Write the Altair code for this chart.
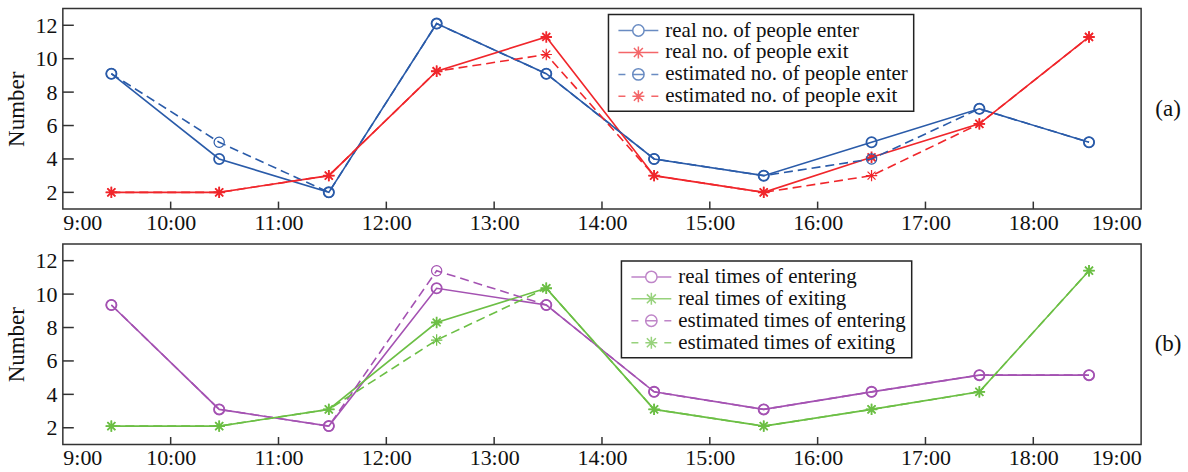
import altair as alt
import pandas as pd

# ---------------- data ----------------
times = ["9:27", "10:27", "11:28", "12:28", "13:29", "14:29", "15:30", "16:30", "17:30", "18:31"]
hours = [int(t.split(":")[0]) + int(t.split(":")[1]) / 60 for t in times]

names_a = ["real no. of people enter", "real no. of people exit",
           "estimated no. of people enter", "estimated no. of people exit"]
real_enter = [9.1, 4, 2, 12.1, 9.1, 4, 3, 5, 7, 5]
real_exit = [2, 2, 3, 9.25, 11.3, 3, 2, 4.1, 6.1, 11.3]
est_enter = [9.1, 5, 2, 12.1, 9.1, 4, 3, 4, 7, 5]
est_exit = [2, 2, 3, 9.25, 10.25, 3, 2, 3, 6.1, 11.3]

names_b = ["real times of entering", "real times of exiting",
           "estimated times of entering", "estimated times of exiting"]
real_entering = [9.35, 3.1, 2.1, 10.35, 9.35, 4.15, 3.1, 4.15, 5.15, 5.15]
real_exiting = [2.1, 2.1, 3.1, 8.3, 10.35, 3.1, 2.1, 3.1, 4.15, 11.4]
est_entering = [9.35, 3.1, 2.1, 11.4, 9.35, 4.15, 3.1, 4.15, 5.15, 5.15]
est_exiting = [2.1, 2.1, 3.1, 7.25, 10.35, 3.1, 2.1, 3.1, 4.15, 11.4]

x_tick_hours = list(range(9, 20))
y_tick_values = [2, 4, 6, 8, 10, 12]
panel_labels = ["(a)", "(b)"]

# ---------------- styles ----------------
W, H = 1081, 201
FONT = "Liberation Serif"
BLUE, RED, PURPLE, GREEN = "#2a5ba9", "#f0262b", "#a452b2", "#6cbf45"

CIRCLE = "circle"
STAR = "M-1,0H1M0,-1V1M-0.7,-0.7L0.7,0.7M-0.7,0.7L0.7,-0.7"

LEG_CIRCLE_SOLID = ("M-2,0H-0.57M0.57,0H2"
                    "M0.57,0A0.57,0.57 0 1 1 -0.57,0A0.57,0.57 0 1 1 0.57,0")
LEG_STAR_SOLID = ("M-2,0H2M0,-0.6V0.6M-0.45,-0.45L0.45,0.45M-0.45,0.45L0.45,-0.45")
LEG_CIRCLE_DASH = ("M-2,0H-1.3M-0.57,0H0.57M1.3,0H2"
                   "M0.57,0A0.57,0.57 0 1 1 -0.57,0A0.57,0.57 0 1 1 0.57,0")
LEG_STAR_DASH = ("M-2,0H-1.3M-0.6,0H0.6M1.3,0H2M0,-0.6V0.6"
                 "M-0.45,-0.45L0.45,0.45M-0.45,0.45L0.45,-0.45")
legend_paths = [LEG_CIRCLE_SOLID, LEG_STAR_SOLID, LEG_CIRCLE_DASH, LEG_STAR_DASH]


def long_df(names, series):
    rows = []
    for n, vals in zip(names, series):
        for h, v in zip(hours, vals):
            rows.append({"hour": h, "value": v, "series": n})
    return pd.DataFrame(rows)


X = alt.X("hour:Q",
          scale=alt.Scale(domain=[9, 19], nice=False, zero=False),
          axis=alt.Axis(values=x_tick_hours, labelExpr="datum.value + ':00'",
                        title=None, labelPadding=3, labelFlush=True, labelOverlap=False))
Y = alt.Y("value:Q",
          scale=alt.Scale(domain=[1, 13], nice=False, zero=False),
          axis=alt.Axis(values=y_tick_values, title="Number", labelPadding=6,
                        titlePadding=6))


def panel(names, series, colors, label, legX, legY):
    df = long_df(names, series)
    base = alt.Chart(df)
    layers = []
    specs = [
        (names[0], colors[0], None, CIRCLE, 105, 1.8),
        (names[1], colors[1], None, STAR, 130, 1.8),
        (names[2], colors[0], [9, 5], CIRCLE, 105, 1.2),
        (names[3], colors[1], [9, 5], STAR, 130, 1.2),
    ]
    for name, col, dash, shape, size, sw in specs:
        sub = base.transform_filter(alt.datum.series == name)
        lk = dict(color=col, strokeWidth=1.6)
        if dash is not None:
            lk["strokeDash"] = dash
        layers.append(sub.mark_line(**lk).encode(x=X, y=Y))
        layers.append(sub.mark_point(shape=shape, color=col, filled=False, size=size,
                                     strokeWidth=sw, opacity=1).encode(x=X, y=Y))

    xt = alt.Chart(pd.DataFrame({"hour": x_tick_hours[1:-1]})).mark_rule(
        color="#333", strokeWidth=1.5).encode(x=X, y=alt.value(H), y2=alt.value(H - 7.5))
    yt = alt.Chart(pd.DataFrame({"value": y_tick_values})).mark_rule(
        color="#333", strokeWidth=1.5).encode(y=Y, x=alt.value(0), x2=alt.value(11))

    leg = alt.Legend(title=None, orient="none", legendX=legX, legendY=legY,
                     direction="vertical", fillColor="white", strokeColor="#222",
                     padding=5, labelFont=FONT, labelFontSize=21, labelColor="#111",
                     labelLimit=500,
                     symbolSize=400, symbolStrokeWidth=1.5, symbolOffset=14,
                     labelOffset=16, rowPadding=1)
    legend_layer = alt.Chart(pd.DataFrame({"series": names})).transform_filter("false").mark_point(
        filled=False).encode(
        color=alt.Color("series:N", scale=alt.Scale(domain=names, range=colors * 2), legend=leg),
        shape=alt.Shape("series:N", scale=alt.Scale(domain=names, range=legend_paths), legend=leg),
    )
    txt = alt.Chart(pd.DataFrame({"label": panel_labels})).transform_filter(
        alt.datum.label == label).mark_text(font=FONT, fontSize=23, color="#111").encode(
        x=alt.value(W + 27), y=alt.value(H / 2), text="label:N")

    return alt.layer(*layers, xt, yt, legend_layer, txt).properties(width=W, height=H)


pa = panel(names_a, [real_enter, real_exit, est_enter, est_exit], [BLUE, RED], "(a)", 547, 6)
pb = panel(names_b, [real_entering, real_exiting, est_entering, est_exiting], [PURPLE, GREEN], "(b)", 560, 17)

chart = alt.vconcat(pa, pb, spacing=35, bounds="flush").resolve_scale(
    color="independent", shape="independent").resolve_legend(
    color="independent", shape="independent").configure_view(
    stroke="#333", strokeWidth=1.5).configure_axis(
    labelFont=FONT, labelFontSize=22, labelColor="#111", titleFont=FONT, titleFontSize=23,
    titleFontWeight="normal", titleColor="#111", grid=False, domain=False, ticks=False
).configure_legend(strokeWidth=1.5).properties(
    padding={"left": 5, "top": 7, "right": 5, "bottom": 2}, background="white")

chart.save("out.html", embed_options={"renderer": "svg", "actions": False})
